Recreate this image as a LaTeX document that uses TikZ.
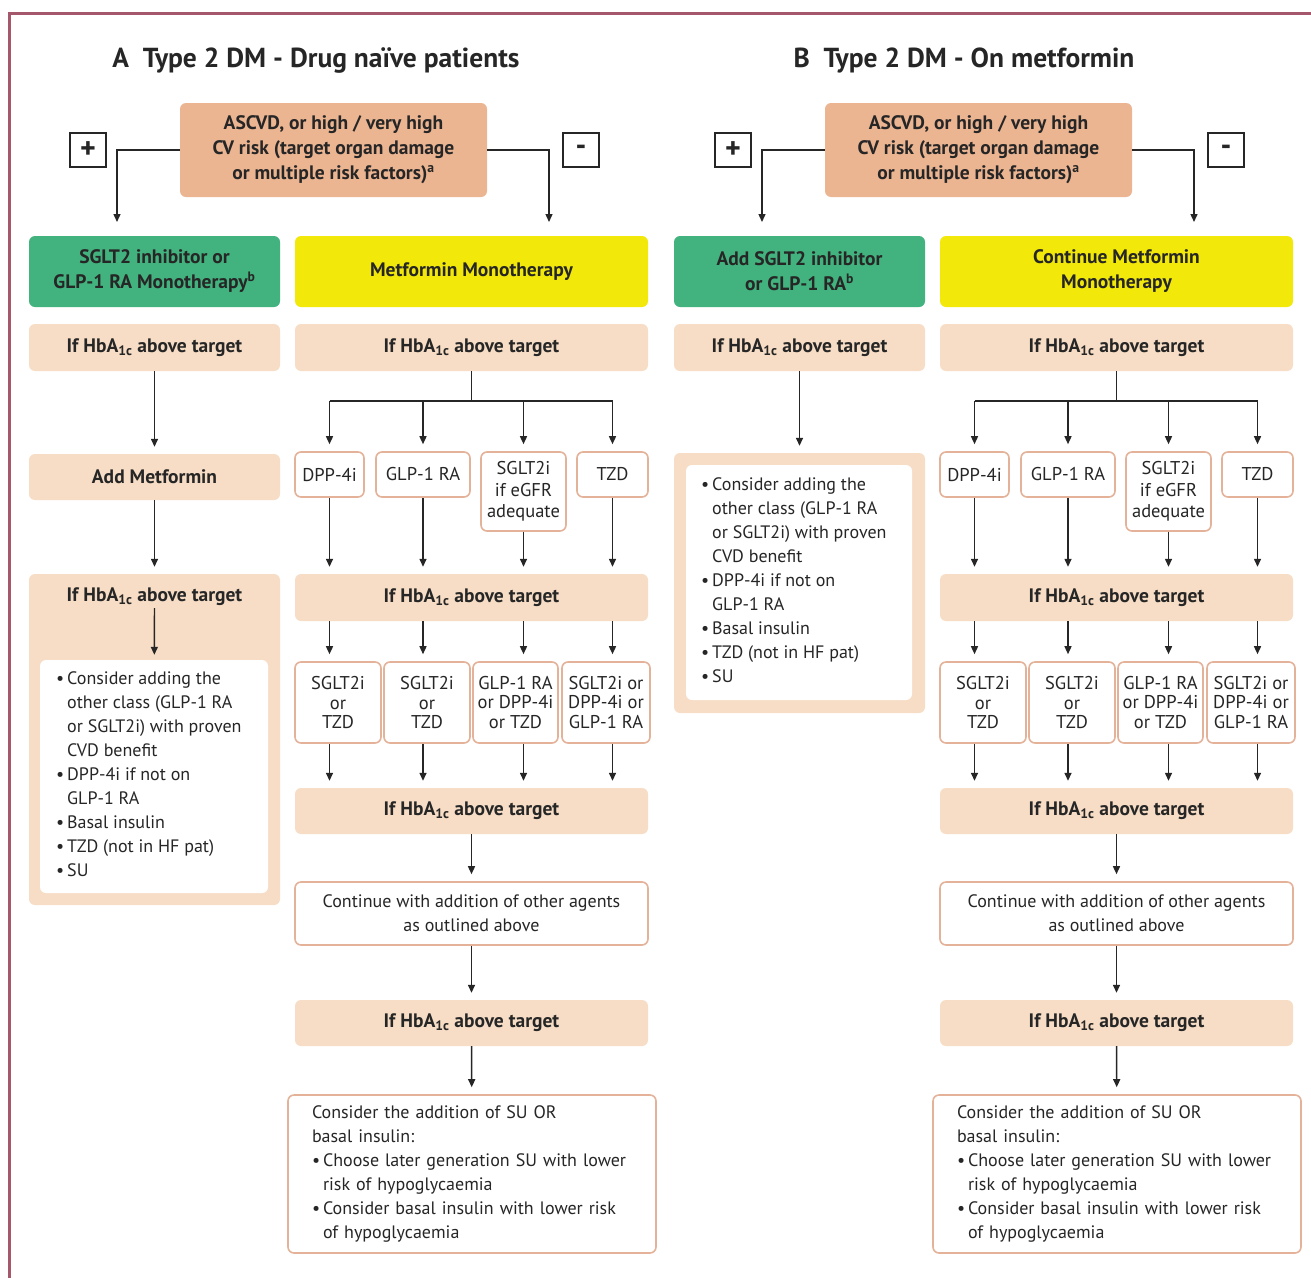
\documentclass[tikz,border=0pt]{standalone}
\usepackage{fontspec}
\setmainfont{PT Sans}
\usetikzlibrary{arrows.meta,calc}
\definecolor{riskc}{RGB}{236,181,146}
\definecolor{tanl}{RGB}{247,221,197}
\definecolor{grn}{RGB}{66,179,126}
\definecolor{ylw}{RGB}{242,233,10}
\definecolor{bord}{RGB}{228,178,152}
\definecolor{ink}{RGB}{38,38,38}
\definecolor{framec}{RGB}{165,88,108}
\newcommand\hba{HbA\textsubscript{1c}}
\newcommand\fttl{\fontsize{27.5}{30}\selectfont\bfseries}
\newcommand\fhd{\fontsize{19.5}{25}\selectfont\bfseries}
\newcommand\fif{\fontsize{19.5}{24}\selectfont\bfseries}
\newcommand\fsm{\fontsize{18.5}{21.5}\selectfont}
\newcommand\fsmb{\fontsize{18.5}{19.5}\selectfont}
\newcommand\fbd{\fontsize{18}{24}\selectfont}
\newcommand\bul{\makebox[11pt][l]{\textbullet}}
\newcommand\ind{\hspace*{11pt}}
\tikzset{
  box/.style={rounded corners=6pt, inner sep=2pt, align=center, text=ink},
  riskbox/.style={box, fill=riskc, font=\fhd, minimum width=307, minimum height=94},
  signbox/.style={draw=ink, line width=1.6pt, fill=white, minimum width=36, minimum height=34, inner sep=0pt, font=\fontsize{30}{30}\selectfont\bfseries, text=ink},
  grnbox/.style={box, fill=grn, font=\fhd, text=black!85},
  ylwbox/.style={box, fill=ylw, font=\fhd, text=black!85},
  ifbox/.style={box, fill=tanl, font=\fif, minimum height=47},
  wide/.style={minimum width=353},
  narrow/.style={minimum width=251},
  smallbox/.style={box, draw=bord, line width=1.6pt, fill=white, font=\fsm},
  smallboxb/.style={box, draw=bord, line width=1.6pt, fill=white, font=\fsmb, minimum height=81},
  ln/.style={draw=ink, line width=1.4pt},
  arr/.style={ln, -{Triangle[length=8pt,width=7pt]}, shorten >=7pt},
  bodytext/.style={align=left, font=\fbd, text=ink, inner sep=0pt}
}
\begin{document}
\begin{tikzpicture}[x=1pt,y=-1pt]
\useasboundingbox (0,0) rectangle (1311,1277);
\fill[white] (0,0) rectangle (1311,1277);
\draw[framec, line width=3pt] (9,1285) -- (9,13) -- (1320,13);

% ---------- titles ----------
\node[font=\fttl, text=ink] (titleA) at (316,60) {A\hspace{0.5em}Type 2 DM - Drug naïve patients};
\node[font=\fttl, text=ink] (titleB) at (964,60) {B\hspace{0.5em}Type 2 DM - On metformin};

% ---------- top of panel A ----------
\node[riskbox] (riskA) at (333.5,150) {ASCVD, or high / very high\\CV risk (target organ damage\\or multiple risk factors)\textsuperscript{a}};
\node[signbox] (plusA) at (88,150) {+};
\node[signbox] (minusA) at (581,150) {-};
\node[grnbox, narrow, minimum height=71] (sgltA) at (154.5,271.5) {SGLT2 inhibitor or\\GLP-1 RA Monotherapy\textsuperscript{b}};
\node[ylwbox, wide, minimum height=71] (metA) at (471.5,271.5) {Metformin Monotherapy};
\coordinate (pA) at (117,229);
\coordinate (mA) at (549,229);
\draw[arr] (riskA.west) -| (pA);
\draw[arr] (riskA.east) -| (mA);

% ---------- top of panel B ----------
\node[riskbox] (riskB) at (978.5,150) {ASCVD, or high / very high\\CV risk (target organ damage\\or multiple risk factors)\textsuperscript{a}};
\node[signbox] (plusB) at (733,150) {+};
\node[signbox] (minusB) at (1226,150) {-};
\node[grnbox, narrow, minimum height=71] (sgltB) at (799.5,271.5) {Add SGLT2 inhibitor\\or GLP-1 RA\textsuperscript{b}};
\node[ylwbox, wide, minimum height=71] (metB) at (1116.5,271.5) {Continue Metformin\\Monotherapy};
\coordinate (pB) at (762,229);
\coordinate (mB) at (1194,229);
\draw[arr] (riskB.west) -| (pB);
\draw[arr] (riskB.east) -| (mB);

% ---------- left column A ----------
\node[ifbox, narrow] (if1A) at (154.5,347.5) {If \hba\ above target};
\node[ifbox, narrow, minimum height=46] (amA) at (154.5,477) {Add Metformin};
\node[box, fill=tanl, narrow, minimum height=331] (bigA) at (154.5,739.5) {};
\node[font=\fif, text=ink, inner sep=2pt] (lblA) at (154.5,597) {If \hba\ above target};
\node[box, fill=white, minimum width=228, minimum height=233] (inA) at (154,776.5) {};
\node[bodytext, anchor=north west] (txA) at (56,671) {\bul Consider adding the\\\ind other class (GLP-1 RA\\\ind or SGLT2i) with proven\\\ind CVD benefit\\\bul DPP-4i if not on\\\ind GLP-1 RA\\\bul Basal insulin\\\bul TZD (not in HF pat)\\\bul SU};
\draw[arr] (if1A) -- (amA);
\draw[arr] (amA) -- (bigA);
\draw[arr, shorten >=5pt] (lblA) -- (inA);

% ---------- left column B ----------
\node[ifbox, narrow] (if1B) at (799.5,347.5) {If \hba\ above target};
\node[box, fill=tanl, narrow, minimum height=260] (bigB) at (799.5,583) {};
\node[box, fill=white, minimum width=226, minimum height=235] (inB) at (799,582.5) {};
\node[bodytext, anchor=north west] (txB) at (701,477) {\bul Consider adding the\\\ind other class (GLP-1 RA\\\ind or SGLT2i) with proven\\\ind CVD benefit\\\bul DPP-4i if not on\\\ind GLP-1 RA\\\bul Basal insulin\\\bul TZD (not in HF pat)\\\bul SU};
\draw[arr] (if1B) -- (bigB);

% ---------- right columns (identical) ----------
\foreach \p/\dx in {A/0,B/645}{
\begin{scope}[xshift=\dx]
  \node[ifbox, wide] (if2\p) at (471.5,347.5) {If \hba\ above target};
  \coordinate (j\p) at (471.5,401);
  \node[smallbox, minimum width=69, minimum height=45] (d\p) at (329.5,474.5) {DPP-4i};
  \node[smallbox, minimum width=94, minimum height=45] (g\p) at (423,474.5) {GLP-1 RA};
  \node[smallbox, minimum width=85, minimum height=79] (s\p) at (523.5,491.5) {SGLT2i\\if eGFR\\adequate};
  \node[smallbox, minimum width=71, minimum height=45] (t\p) at (612.5,474.5) {TZD};
  \node[ifbox, wide] (if3\p) at (471.5,597.5) {If \hba\ above target};
  \node[smallboxb, minimum width=86] (ra\p) at (338,702.5) {SGLT2i\\or\\TZD};
  \node[smallboxb, minimum width=86] (rb\p) at (427,702.5) {SGLT2i\\or\\TZD};
  \node[smallboxb, minimum width=85] (rc\p) at (515.5,702.5) {GLP-1 RA\\or DPP-4i\\or TZD};
  \node[smallboxb, minimum width=88] (rd\p) at (606,702.5) {SGLT2i or\\DPP-4i or\\GLP-1 RA};
  \node[ifbox, wide, minimum height=46] (if4\p) at (471.5,811) {If \hba\ above target};
  \node[smallbox, wide, minimum height=63, font=\fbd] (c\p) at (471.5,913.5) {Continue with addition of other agents\\as outlined above};
  \node[ifbox, wide, minimum height=46] (if5\p) at (471.5,1023) {If \hba\ above target};
  \node[smallbox, minimum width=368, minimum height=158, text width=320, align=left, font=\fbd] (f\p) at (472,1174) {Consider the addition of SU OR\\basal insulin:\\\bul Choose later generation SU with lower\\\ind risk of hypoglycaemia\\\bul Consider basal insulin with lower risk\\\ind of hypoglycaemia};
\end{scope}
  \draw[ln] (if2\p.south) -- (j\p);
  \draw[ln] (j\p -| d\p) -- (j\p -| t\p);
  \foreach \n/\r in {d/ra,g/rb,s/rc,t/rd}{
    \draw[arr] (j\p -| \n\p) -- (\n\p.north);
    \draw[arr] (\n\p.south) -- (if3\p.north -| \n\p);
    \draw[arr] (if3\p.south -| \n\p) -- (\r\p.north -| \n\p);
    \draw[arr] (\r\p.south -| \n\p) -- (if4\p.north -| \n\p);
  }
  \draw[arr] (if4\p) -- (c\p);
  \draw[arr] (c\p) -- (if5\p);
  \draw[arr] (if5\p) -- (f\p);
}
\end{tikzpicture}
\end{document}
